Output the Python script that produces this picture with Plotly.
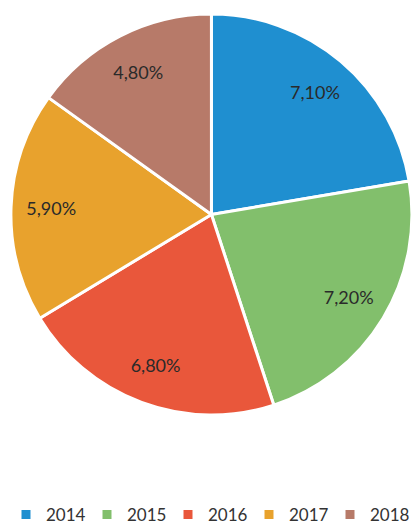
import plotly.graph_objects as go

years = ["2014", "2015", "2016", "2017", "2018"]
values = [7.10, 7.20, 6.80, 5.90, 4.80]
labels_text = ["7,10%", "7,20%", "6,80%", "5,90%", "4,80%"]
colors = ["#1f8fd0", "#82bf6c", "#e9573b", "#e8a22d", "#b77a69"]

dom = dict(x=[0.024, 0.99], y=[0.2125, 0.9734])

fig = go.Figure()
fig.add_trace(go.Pie(
    labels=years,
    values=values,
    textinfo="none",
    sort=False,
    direction="clockwise",
    rotation=0,
    marker=dict(colors=colors, line=dict(color="white", width=3)),
    hoverinfo="label+value",
    domain=dom,
))
# transparent ring used only to place the value labels farther out
fig.add_trace(go.Pie(
    labels=years,
    values=values,
    text=labels_text,
    textinfo="text",
    textposition="inside",
    insidetextorientation="horizontal",
    hole=0.6,
    sort=False,
    direction="clockwise",
    rotation=0,
    marker=dict(colors=["rgba(0,0,0,0)"] * 5, line=dict(width=0)),
    textfont=dict(family="Lato", size=18, color="#2a2a2a"),
    hoverinfo="skip",
    showlegend=False,
    domain=dom,
))

fig.update_layout(
    width=417, height=527,
    margin=dict(l=0, r=0, t=0, b=0, autoexpand=False),
    paper_bgcolor="white",
    showlegend=True,
    legend=dict(orientation="h", x=0.5, xanchor="center", y=0.023, yanchor="middle",
                font=dict(family="Lato", size=17, color="#333333"),
                entrywidth=36, entrywidthmode="pixels", borderwidth=0),
)

fig.write_html("out.html", config={"displayModeBar": False},
               post_script="document.body.style.margin='0';")
